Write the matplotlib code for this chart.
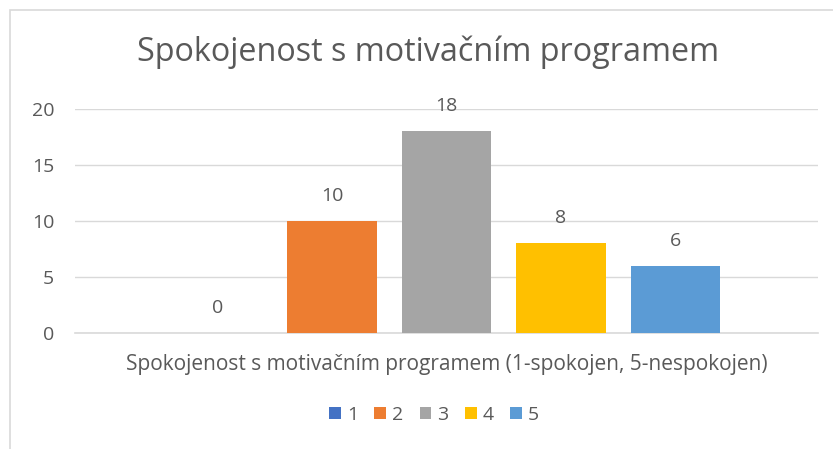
import matplotlib.pyplot as plt
from matplotlib.patches import Rectangle

categories = ['1', '2', '3', '4', '5']
values = [0, 10, 18, 8, 6]
colors = ['#4472C4', '#ED7D31', '#A5A5A5', '#FFC000', '#5B9BD5']
title = 'Spokojenost s motivačním programem'
xlabel = 'Spokojenost s motivačním programem (1-spokojen, 5-nespokojen)'
yticks = [0, 5, 10, 15, 20]

plt.rcParams['font.family'] = ['Open Sans', 'DejaVu Sans']
txt = '#595959'
fig = plt.figure(figsize=(8.33, 4.49), dpi=100)
fig.patches.append(Rectangle((10/833, -0.1), 1.2, 1 - 10/449 + 0.1, transform=fig.transFigure,
                             fill=False, edgecolor='#D9D9D9', linewidth=1.2))
ax = fig.add_axes([75/833, 1 - 333/449, (818 - 75)/833, (333 - 109)/449])

x = list(range(len(values)))
bars = ax.bar(x, values, width=0.78, color=colors, label=categories, zorder=3)
for xi, v in zip(x, values):
    ax.annotate(str(v), (xi, v), xytext=(0, 18), textcoords='offset points',
                ha='center', va='center', fontsize=14, color=txt)

ax.set_xlim(-1.246, 5.246)
ax.set_ylim(0, 20)
ax.set_yticks(yticks)
ax.grid(axis='y', color='#D9D9D9', linewidth=1, zorder=0)
ax.set_xticks([])
for s in ['top', 'right', 'left']:
    ax.spines[s].set_visible(False)
ax.spines['bottom'].set_color('#D9D9D9')
ax.spines['bottom'].set_linewidth(1.2)
ax.tick_params(axis='y', length=0, labelsize=14, labelcolor=txt, pad=15)
ax.set_xlabel(xlabel, fontsize=15, color=txt, labelpad=15)

fig.text(428/833, 1 - 52/449, title, ha='center', va='center', fontsize=23.3, color=txt)
fig.legend(bars, categories, loc='center', bbox_to_anchor=(434/833, 1 - 415/449), ncol=5,
           frameon=False, fontsize=14, labelcolor=txt, handlelength=0.6, handleheight=0.6,
           handletextpad=0.3, columnspacing=0.85)

fig.savefig('out.png', dpi=100)
